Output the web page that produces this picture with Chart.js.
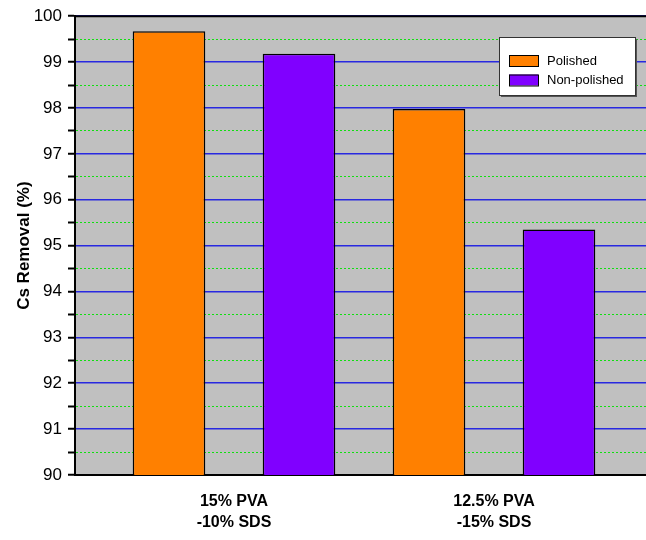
<!DOCTYPE html>
<html>
<head>
<meta charset="utf-8">
<script src="https://cdn.jsdelivr.net/npm/chart.js@4/dist/chart.umd.min.js"></script>
<style>
  html, body { margin: 0; padding: 0; background: #fff; }
  .wrap { width: 646px; height: 540px; position: relative; }
</style>
</head>
<body>
<div class="wrap"><canvas id="chart"></canvas></div>
<script>
const groupLabels = [['15% PVA', '-10% SDS'], ['12.5% PVA', '-15% SDS']];
const groupPos = [1, 2];
const polished = [99.67, 97.98];
const nonPolished = [99.18, 95.35];

const font = "'Liberation Sans', Arial, sans-serif";

const toPoints = vals => vals.map((v, i) => ({ x: groupPos[i], y: v }));

// grey plot background + top frame line
const plotFrame = {
  id: 'plotFrame',
  beforeDraw(chart) {
    const { ctx, chartArea: a } = chart;
    ctx.save();
    ctx.fillStyle = '#c0c0c0';
    ctx.fillRect(a.left, a.top, a.right - a.left, a.bottom - a.top);
    ctx.restore();
  },
  afterDraw(chart) {
    const { ctx, chartArea: a } = chart;
    ctx.save();
    ctx.strokeStyle = '#000';
    ctx.lineWidth = 2;
    ctx.beginPath();
    ctx.moveTo(a.left, a.top);
    ctx.lineTo(a.right, a.top);
    ctx.stroke();
    ctx.restore();
  }
};

// boxed legend inside the plot, top right
const boxLegend = {
  id: 'boxLegend',
  afterDraw(chart) {
    const { ctx } = chart;
    const x = 499, y = 37, w = 136, h = 58;
    ctx.save();
    ctx.fillStyle = '#555';
    ctx.fillRect(x + 2, y + 2, w, h);
    ctx.fillStyle = '#fff';
    ctx.fillRect(x, y, w, h);
    ctx.strokeStyle = '#333';
    ctx.lineWidth = 1;
    ctx.strokeRect(x + 0.5, y + 0.5, w, h);
    ctx.font = '13px ' + font;
    ctx.textBaseline = 'middle';
    chart.data.datasets.forEach((ds, i) => {
      const sy = 55 + i * 19.5;
      ctx.fillStyle = ds.backgroundColor;
      ctx.fillRect(509, sy, 29, 11);
      ctx.strokeStyle = '#000';
      ctx.strokeRect(509.5, sy + 0.5, 29, 11);
      ctx.fillStyle = '#000';
      ctx.fillText(ds.label, 547, sy + 6);
    });
    ctx.restore();
  }
};

new Chart(document.getElementById('chart'), {
  type: 'bar',
  data: {
    datasets: [
      { label: 'Polished', data: toPoints(polished), backgroundColor: '#ff8000', borderColor: '#000', borderWidth: 1.5 },
      { label: 'Non-polished', data: toPoints(nonPolished), backgroundColor: '#8000ff', borderColor: '#000', borderWidth: 1.5 }
    ]
  },
  options: {
    responsive: true,
    maintainAspectRatio: false,
    animation: false,
    layout: { padding: { top: 15, right: 0, bottom: 0, left: 0 } },
    datasets: { bar: { categoryPercentage: 1, barPercentage: 0.5585 } },
    plugins: {
      legend: { display: false },
      tooltip: { enabled: false }
    },
    scales: {
      x: {
        type: 'linear',
        offset: false,
        min: 0.3885,
        max: 2.5846,
        afterBuildTicks: s => { s.ticks = groupPos.map(v => ({ value: v })); },
        afterFit: s => { s.height = 65; },
        grid: { display: false, drawTicks: false, offset: false },
        border: { color: '#000', width: 2 },
        ticks: {
          padding: 16,
          autoSkip: false,
          maxRotation: 0,
          color: '#000',
          font: { family: font, size: 16, weight: 'bold', lineHeight: 1.3 },
          callback: (v) => groupLabels[groupPos.indexOf(v)] || ''
        }
      },
      y: {
        min: 90,
        max: 100,
        afterFit: s => { s.width = 75; },
        border: {
          color: '#000',
          width: 2,
          dash: c => (c.tick && c.tick.value % 1 !== 0) ? [2, 2] : []
        },
        grid: {
          color: c => c.tick.value % 1 !== 0 ? '#10e010' : '#2828e0',
          lineWidth: c => c.tick.value % 1 !== 0 ? 1 : 1.5,
          tickColor: '#000',
          tickWidth: 2,
          tickLength: 7,
          tickBorderDash: []
        },
        ticks: {
          stepSize: 0.5,
          autoSkip: false,
          padding: 6,
          color: '#000',
          font: { family: font, size: 17 },
          callback: v => v % 1 === 0 ? v : ''
        },
        title: {
          display: true,
          text: 'Cs Removal (%)',
          color: '#000',
          font: { family: font, size: 17, weight: 'bold' },
          padding: { top: 14, bottom: 0 }
        }
      }
    }
  },
  plugins: [plotFrame, boxLegend]
});
</script>
</body>
</html>
